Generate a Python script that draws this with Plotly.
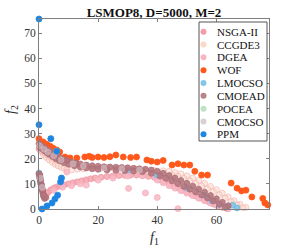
import plotly.graph_objects as go

# ---------------- data ----------------
series_names = ["NSGA-II", "CCGDE3", "DGEA", "WOF", "LMOCSO", "CMOEAD", "POCEA", "CMOCSO", "PPM"]

nsga_x = [1.8, 2.5, 3.2, 4, 5, 6, 7, 8.5, 10, 11.5, 13, 14.5, 16, 17.5, 19, 21, 23, 25, 27, 29, 31, 33, 35, 37,
          39, 41, 42.5, 44, 45.5, 47, 48.5, 50, 51.5, 53, 54.5, 56, 57.5, 59, 60.5, 62, 63.5,
          0, 1, 2, 3, 4, 5.5]
nsga_y = [4.8, 5.8, 6.8, 7.6, 8.3, 8.8, 9.2, 9.6, 10, 10.4, 10.8, 11.2, 11.6, 12, 12.3, 12.6, 12.9, 13.1, 13.3, 13.4,
          13.5, 13.5, 13.3, 13, 12.6, 11.6, 10.8, 10.0, 9.2, 8.4, 7.6, 6.8, 6.0, 5.2, 4.4, 3.6, 2.8, 2.0, 1.3, 0.7, 0.2,
          24, 23, 22, 21.2, 20.5, 19.4]

ccgde3_x = [0.5, 1.5, 2.5, 3.5, 4.5, 5.5, 6.5, 7.5, 8.5, 9.5, 11, 13, 15, 18, 21, 24, 27, 30, 33, 36, 39, 42,
            44, 46, 48, 50, 52, 54, 56, 58, 60, 62, 64, 66, 68, 70,
            45, 47, 49, 51, 53, 55, 57, 59, 61, 63, 65, 67, 69]
ccgde3_y = [23, 21.5, 20.5, 19.5, 18.6, 17.8, 17.2, 16.6, 16.2, 15.8, 15.5, 15.8, 16, 16.2, 16.2, 16.3, 16.2, 16,
            15.8, 15.6, 15.3, 15.2, 15, 14.5, 14, 13.2, 12.3, 11.3, 10.2, 9, 7.7, 6.3, 4.8, 3.3, 1.9, 0.6,
            13.6, 13, 12.2, 11.2, 10.2, 9.2, 8.1, 6.9, 5.6, 4.3, 2.9, 1.6, 0.5]

dgea_x = [16, 30.3, 36, 40, 47, 5, 8, 11, 14, 20, 25, 30, 35,
          40, 42, 44, 46, 48, 50, 52, 54, 56, 58, 60, 62, 64, 9.4]
dgea_y = [9.5, 8.2, 6.4, 4.6, 0.1, 7.5, 8.7, 9.3, 10, 11.5, 12.3, 13.1, 13.2,
          11.5, 10.4, 9.3, 8.3, 7.3, 6.3, 5.3, 4.3, 3.3, 2.4, 1.5, 0.7, 0.1, 14.7]

wof_x = [0, 1.4, 2.6, 3.8, 4.8, 6, 7, 8.8, 10.5, 12.8, 15.5, 17, 18, 20, 22, 24, 26, 28.5, 31, 33, 36.5, 38,
         40, 42, 45, 47, 49, 51, 52.7, 55, 57, 65, 67, 68.5, 70, 72, 75.7, 76.4, 77.4]
wof_y = [28, 26.7, 25.8, 25, 24.2, 23.5, 22.7, 20.7, 20.3, 20.3, 20.7, 21, 20.5, 20.7, 20.5, 20.8, 21.5, 20.7,
         20.5, 20.7, 19.5, 19, 18.7, 19.3, 17.5, 18, 17.5, 17.5, 15, 13.5, 13.5, 10.3, 8.3, 7.2, 7.5, 4.8, 4.2,
         2.4, 1.6]

lmocso_x = [0, 0.4, 30, 40, 50, 56, 58.5, 61, 63.5, 65.5, 67]
lmocso_y = [14.3, 12.5, 15.5, 13.5, 8.5, 5.5, 3.3, 1.8, 0.9, 1.5, 0.4]

cmoead_x = [0, 0.7, 1.4, 2.1, 2.8, 3.5, 4.3, 5.2, 6.2, 7.2, 8.3, 9.5, 11, 12.5, 14, 16, 18, 20, 22, 24, 26, 28,
            30, 32, 34, 36, 38, 40, 42, 44, 46, 48, 50, 52, 54, 56, 58, 60, 62, 64,
            0.3, 1.0, 1.8, 2.6, 3.4, 4.6, 5.8, 7.0, 8.5, 10, 12, 14, 16, 18, 20, 23, 26, 29, 32, 35, 38, 41, 43,
            45, 47, 49, 51, 53, 55, 57, 59, 61, 63,
            0, 0.15, 0.3, 0.45, 0.6, 0.8, 1.0, 1.2, 1.4, 1.6, 1.9, 2.3, 0.3, 0.6, 0.9, 1.2, 1.5]
cmoead_y = [26, 25.4, 24.8, 24.2, 23.6, 23, 22.4, 21.7, 21, 20.3, 19.7, 19.2, 18.7, 18.3, 17.9, 17.5, 17.2, 17,
            16.8, 16.7, 16.6, 16.5, 16.4, 16.2, 16, 15.8, 15.5, 15, 14.2, 13.3, 12.3, 11.3, 10.2, 9.1, 7.9, 6.7,
            5.4, 4.1, 2.7, 1.3,
            24.6, 24, 23.2, 22.5, 21.8, 20.9, 20, 19.2, 18.4, 17.8, 17.2, 16.7, 16.3, 16, 15.8, 15.5, 15.4, 15.3,
            15.1, 14.8, 14.2, 13.1, 12.2, 11.2, 10.1, 9.0, 7.9, 6.8, 5.6, 4.4, 3.2, 1.9, 0.7,
            14, 13, 12, 11, 10, 9, 8, 7, 6, 5, 4.2, 4.6, 13.5, 11.5, 9.5, 7.5, 5.5]

# POCEA points lie underneath other solutions and are not visible in the reference
pocea_x = [4, 6, 7.6, 2.7]
pocea_y = [28, 23, 12.3, 1.2]

cmocso_x = [0.2, 1.7, 3.0, 5.0, 7.5, 11.5, 15, 22, 28, 34, 0.5, 1.1]
cmocso_y = [25.2, 23.8, 22.7, 21.2, 19.6, 18.0, 17.1, 16.3, 16.0, 15.5, 12.2, 8.6]

ppm_x = [0, 0, 4, 6, 7.6, 7.3, 1, 2.7, 4.4, 5.4, 6.3]
ppm_y = [75.6, 33.5, 28, 23, 12.3, 10.8, 0, 1.2, 2.4, 4, 5.5]

x_ticks = [0, 20, 40, 60]
y_ticks = [0, 10, 20, 30, 40, 50, 60, 70]

# ---------------- styles ----------------
styles = {
    "NSGA-II": dict(fill="rgba(245,165,175,0.85)", line="rgba(238,150,160,0.9)", legend="#F59CA6"),
    "CCGDE3": dict(fill="rgba(252,218,200,0.55)", line="rgba(240,175,175,0.75)", legend="#FBD9C6"),
    "DGEA": dict(fill="rgba(248,185,198,0.85)", line="rgba(245,172,186,0.9)", legend="#F8B6C4"),
    "WOF": dict(fill="rgba(255,88,28,1)", line="rgba(255,88,28,1)", legend="#FF581C"),
    "LMOCSO": dict(fill="rgba(128,196,230,0.9)", line="rgba(110,180,220,0.9)", legend="#86C6E8"),
    "CMOEAD": dict(fill="rgba(180,118,125,0.9)", line="rgba(172,110,118,0.9)", legend="#B7848A"),
    "POCEA": dict(fill="rgba(185,226,198,0.9)", line="rgba(185,226,198,0.9)", legend="#BCE3C8"),
    "CMOCSO": dict(fill="rgba(218,200,204,0.55)", line="rgba(205,185,190,0.65)", legend="#DCCFD1"),
    "PPM": dict(fill="rgba(30,134,226,1)", line="rgba(30,134,226,1)", legend="#1E86E2"),
}

data = {
    "NSGA-II": (nsga_x, nsga_y),
    "CCGDE3": (ccgde3_x, ccgde3_y),
    "DGEA": (dgea_x, dgea_y),
    "WOF": (wof_x, wof_y),
    "LMOCSO": (lmocso_x, lmocso_y),
    "CMOEAD": (cmoead_x, cmoead_y),
    "POCEA": (pocea_x, pocea_y),
    "CMOCSO": (cmocso_x, cmocso_y),
    "PPM": (ppm_x, ppm_y),
}

fig = go.Figure()
for name in series_names:
    xs, ys = data[name]
    st = styles[name]
    fig.add_trace(go.Scatter(
        x=xs, y=ys, mode="markers", name=name, showlegend=False, cliponaxis=False,
        marker=dict(size=6, color=st["fill"], line=dict(color=st["line"], width=0.8)),
    ))

# ---------------- geometry ----------------
W, H = 299, 249
L, R, T, B = 39, 30, 19, 40
pw, ph = W - L - R, H - T - B


def px2paper_x(px):
    return (px - L) / pw


def px2paper_y(py):
    return (H - B - py) / ph


serif = "Liberation Serif, Times New Roman, serif"
axis_col = "#7f7f7f"

fig.update_layout(
    width=W, height=H,
    margin=dict(l=L, r=R, t=T, b=B, pad=0),
    paper_bgcolor="white", plot_bgcolor="white",
    font=dict(family=serif, size=11, color="#262626"),
    title=dict(text="<b>LSMOP8, D=5000, M=2</b>", x=px2paper_x(154), xref="paper", xanchor="center",
               y=1 - 12 / H, yref="container", yanchor="middle",
               font=dict(family=serif, size=13, color="#111111")),
    xaxis=dict(range=[0, 77.8], tickvals=x_ticks, ticktext=[str(v) for v in x_ticks],
               showline=True, linecolor=axis_col, linewidth=1, mirror="ticks",
               ticks="inside", ticklen=3, tickcolor=axis_col, showgrid=False, zeroline=False,
               tickfont=dict(family=serif, size=11.5, color="#333333")),
    yaxis=dict(range=[0, 75.6], tickvals=y_ticks, ticktext=[str(v) for v in y_ticks],
               showline=True, linecolor=axis_col, linewidth=1, mirror="ticks",
               ticks="inside", ticklen=3, tickcolor=axis_col, showgrid=False, zeroline=False,
               tickfont=dict(family=serif, size=11.5, color="#333333")),
)

annotations = [
    dict(text="<i>f</i><sub>1</sub>", x=px2paper_x(154), y=px2paper_y(238), xref="paper", yref="paper",
         xanchor="center", yanchor="middle", showarrow=False, font=dict(family=serif, size=14, color="#262626")),
    dict(text="<i>f</i><sub>2</sub>", x=px2paper_x(11), y=px2paper_y(110), xref="paper", yref="paper",
         xanchor="center", yanchor="middle", textangle=-90, showarrow=False,
         font=dict(family=serif, size=14, color="#262626")),
]

# ---------------- legend (drawn to match compact MATLAB legend) ----------------
shapes = [dict(type="rect", xref="paper", yref="paper",
               x0=px2paper_x(199), x1=px2paper_x(267), y0=px2paper_y(141), y1=px2paper_y(22),
               fillcolor="white", line=dict(color="#555555", width=1), layer="above")]
row0, dy = 31.7, 12.83
for i, name in enumerate(series_names):
    yy = px2paper_y(row0 + i * dy)
    shapes.append(dict(type="circle", xref="paper", yref="paper", xsizemode="pixel", ysizemode="pixel",
                       xanchor=px2paper_x(203.5), yanchor=yy, x0=-3, x1=3, y0=-3, y1=3,
                       fillcolor=styles[name]["legend"], line=dict(width=0), layer="above"))
    annotations.append(dict(text=name, x=px2paper_x(215), y=yy, xref="paper", yref="paper",
                            xanchor="left", yanchor="middle", showarrow=False,
                            font=dict(family=serif, size=11, color="#111111")))

fig.update_layout(shapes=shapes, annotations=annotations)
fig.write_html("out.html", config={"displayModeBar": False},
               post_script="document.body.style.margin='0';document.body.style.padding='0';")
